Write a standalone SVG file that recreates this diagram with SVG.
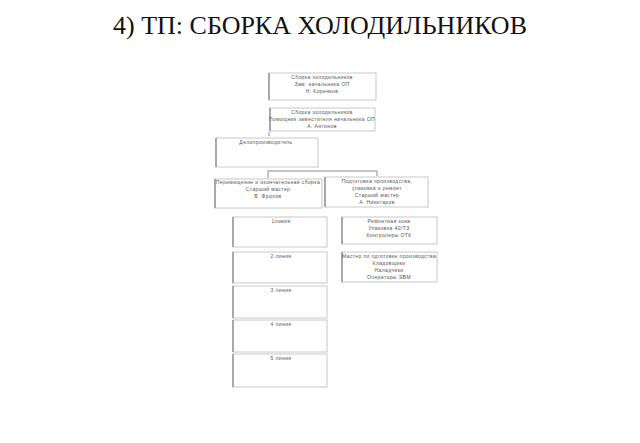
<svg xmlns="http://www.w3.org/2000/svg" width="640" height="443" viewBox="0 0 640 443">
<style>
.box{fill:#fff;stroke:#c8c8c8;stroke-width:1}
.edge{stroke:#808080;stroke-width:1.2}
.t{font-family:"Liberation Sans",Arial,sans-serif;font-size:5px;letter-spacing:0.4px;fill:#555;text-anchor:middle}
.title{font-family:"Liberation Serif","Times New Roman",serif;font-size:26px;fill:#111;text-anchor:middle}
.conn{fill:none;stroke:#888;stroke-width:1}
</style>
<rect width="640" height="443" fill="#fff"/>
<text class="title" x="320" y="34">4) ТП: СБОРКА ХОЛОДИЛЬНИКОВ</text>
<g id="connectors">
<path class="conn" d="M269 132V136"/>
<path class="conn" d="M268 178V171H377V176"/>
</g>
<g id="n1"><rect class="box" x="269" y="73" width="107" height="27"/><path class="edge" d="M269 73V100"/>
<text class="t" x="322" y="79">Сборка холодильников</text><text class="t" x="322" y="86">Зам. начальника ОП</text><text class="t" x="322" y="93">Н. Коренков</text></g>
<g id="n2"><rect class="box" x="270" y="108" width="105" height="23"/><path class="edge" d="M270 108V131"/>
<text class="t" x="322" y="114">Сборка холодильников</text><text class="t" x="322" y="121">Помощник заместителя начальника ОП</text><text class="t" x="322" y="128">А. Антонов</text></g>
<g id="n3"><rect class="box" x="216" y="138" width="102" height="29"/><path class="edge" d="M216 138V167"/>
<text class="t" x="266" y="144">Делопроизводитель</text></g>
<g id="n4"><rect class="box" x="215" y="179" width="107" height="29"/><path class="edge" d="M215 179V208"/>
<text class="t" x="268" y="184">Перемещение и окончательная сборка</text><text class="t" x="268" y="191">Старший мастер</text><text class="t" x="268" y="198">В. Фролов</text></g>
<g id="n5"><rect class="box" x="325" y="177" width="103" height="30"/><path class="edge" d="M325 177V207"/>
<text class="t" x="377" y="183">Подготовка производства,</text><text class="t" x="377" y="190">упаковка и ремонт</text><text class="t" x="377" y="197">Старший мастер</text><text class="t" x="377" y="204">А. Никитаров</text></g>
<g id="n6"><rect class="box" x="233" y="217" width="94" height="30"/><path class="edge" d="M233 217V247"/><text class="t" x="281" y="223">1линия</text></g>
<g id="n7"><rect class="box" x="233" y="252" width="94" height="31"/><path class="edge" d="M233 252V283"/><text class="t" x="281" y="258">2 линия</text></g>
<g id="n8"><rect class="box" x="233" y="286" width="94" height="32"/><path class="edge" d="M233 286V318"/><text class="t" x="281" y="292">3 линия</text></g>
<g id="n9"><rect class="box" x="233" y="320" width="94" height="32"/><path class="edge" d="M233 320V352"/><text class="t" x="281" y="326">4 линия</text></g>
<g id="n10"><rect class="box" x="233" y="354" width="94" height="33"/><path class="edge" d="M233 354V387"/><text class="t" x="281" y="360">5 линия</text></g>
<g id="n11"><rect class="box" x="342" y="217" width="95" height="27"/><path class="edge" d="M342 217V244"/>
<text class="t" x="389" y="223">Ремонтная зона</text><text class="t" x="389" y="230">Упаковка 40/ТЗ</text><text class="t" x="389" y="237">Контролеры ОТК</text></g>
<g id="n12"><rect class="box" x="342" y="252" width="95" height="30"/><path class="edge" d="M342 252V282"/>
<text class="t" x="389" y="258">Мастер по пдготовке производства</text><text class="t" x="389" y="265">Кладовщики</text><text class="t" x="389" y="272">Наладчики</text><text class="t" x="389" y="279">Операторы ЭВМ</text></g>
</svg>
